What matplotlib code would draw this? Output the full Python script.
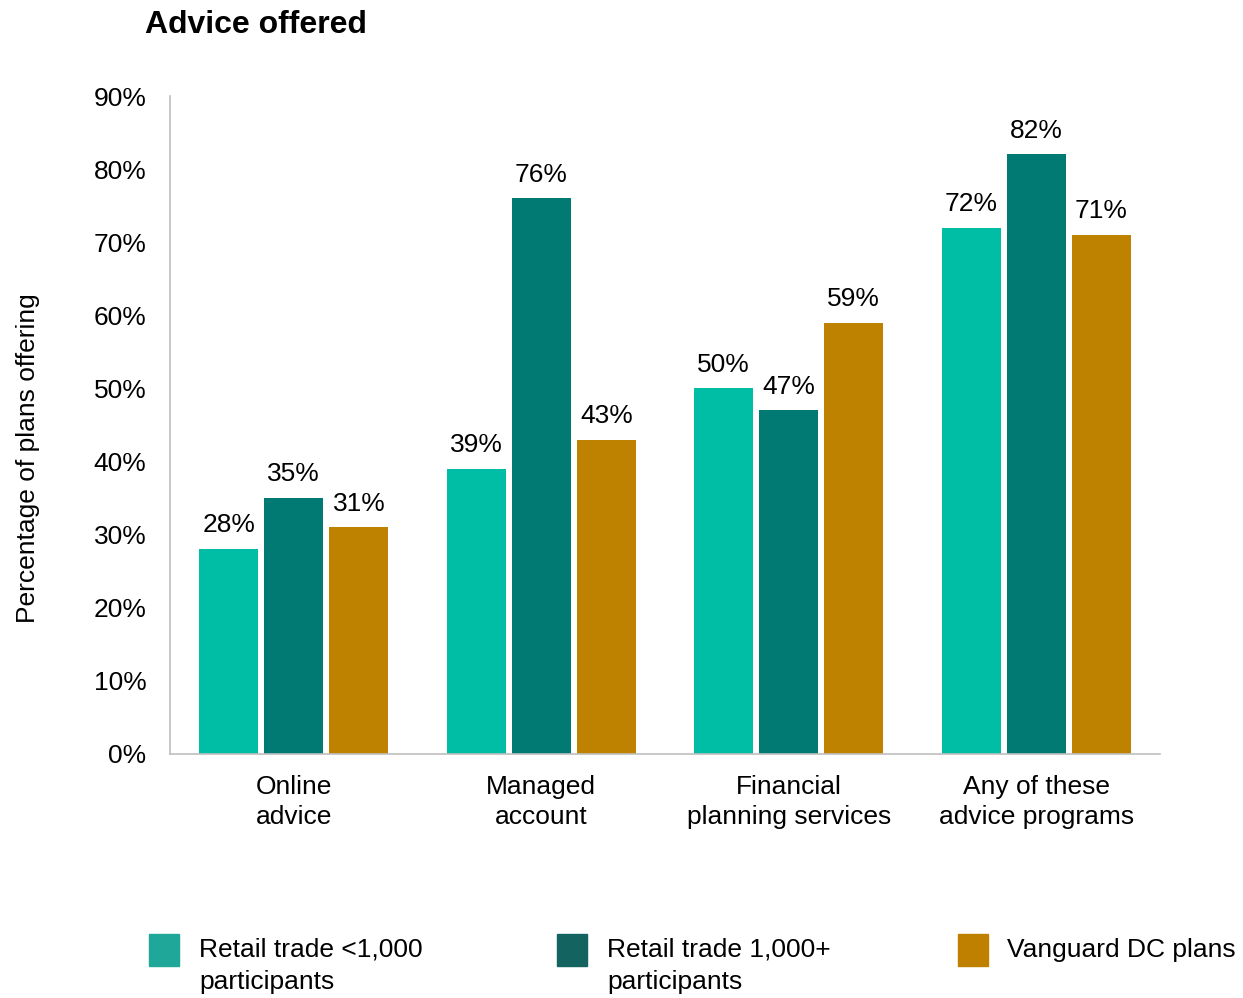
import matplotlib.pyplot as plt
from matplotlib.patches import Rectangle
import numpy as np

plt.rcParams['font.family'] = ['Liberation Sans', 'DejaVu Sans']

# Advice programs offered, percentage of plans
categories = ['Online\nadvice', 'Managed\naccount', 'Financial\nplanning services',
              'Any of these\nadvice programs']
small_retail = [28, 39, 50, 72]
large_retail = [35, 76, 47, 82]
vanguard_dc = [31, 43, 59, 71]
yticks = [0, 10, 20, 30, 40, 50, 60, 70, 80, 90]

series_names = ['Retail trade <1,000\nparticipants', 'Retail trade 1,000+\nparticipants',
                'Vanguard DC plans']
bar_colors = ['#00BEA5', '#007A72', '#BF8200']
legend_colors = ['#1FA79A', '#136460', '#BF8000']

fig = plt.figure(figsize=(12.43, 9.98), dpi=100)
ax = fig.add_axes([0.1368, 0.2445, 0.7964, 0.6593])

x = np.arange(len(categories))
width = 0.238
step = 0.263
for i, vals in enumerate([small_retail, large_retail, vanguard_dc]):
    pos = x + (i - 1) * step
    bars = ax.bar(pos, vals, width, color=bar_colors[i])
    for b, v in zip(bars, vals):
        ax.annotate(f'{v}%', (b.get_x() + b.get_width() / 2, v),
                    xytext=(0, 8.5), textcoords='offset points',
                    ha='center', va='bottom', fontsize=19)

ax.set_xlim(-0.5, 3.5)
ax.set_ylim(0, 90)
ax.set_yticks(yticks)
ax.set_yticklabels([f'{t}%' for t in yticks])
ax.set_xticks(x)
ax.set_xticklabels(categories, linespacing=1.3)
ax.tick_params(axis='y', length=0, pad=17, labelsize=19)
ax.tick_params(axis='x', length=0, pad=15, labelsize=19)
for s in ['top', 'right']:
    ax.spines[s].set_visible(False)
for s in ['left', 'bottom']:
    ax.spines[s].set_color('#BFBFBF')
    ax.spines[s].set_linewidth(1.2)

W, H = 1243, 998
fig.text(145 / W, 1 - 25 / H, 'Advice offered', fontsize=23, fontweight='bold',
         ha='left', va='center')
fig.text(28 / W, 1 - 458 / H, 'Percentage of plans offering', fontsize=19,
         rotation=90, ha='center', va='center')

# legend drawn by hand
patch_x = [149, 557, 958]
text_x = [199, 607, 1007]
for px, tx, name, c in zip(patch_x, text_x, series_names, legend_colors):
    fig.add_artist(Rectangle((px / W, 1 - 966 / H), 30 / W, 32 / H,
                             transform=fig.transFigure, color=c))
    fig.text(tx / W, 1 - 938 / H, name, fontsize=19, ha='left', va='top',
             linespacing=1.4)

fig.savefig('out.png', dpi=100)
